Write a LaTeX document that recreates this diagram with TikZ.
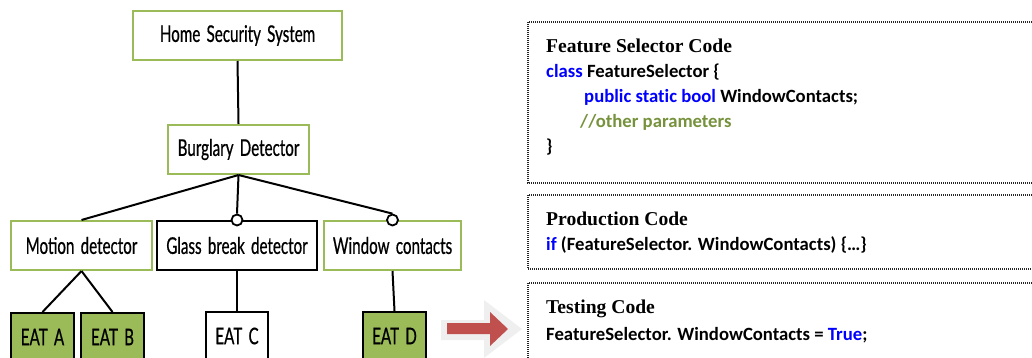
\documentclass[tikz,border=0pt]{standalone}
\usepackage{fontspec}
\setmainfont[Ligatures=NoCommon]{Carlito}
\newfontfamily\headfont{Liberation Serif}
\newfontfamily\treefont[FakeStretch=0.66,WordSpace=1.6,FakeBold=0.6]{Lato}
\definecolor{ogreen}{HTML}{9BBB59}
\definecolor{cgreen}{HTML}{76923C}
\definecolor{kblue}{HTML}{0000FF}
\definecolor{ared}{HTML}{C0504D}
\definecolor{shadowgray}{HTML}{EFEFEF}
\tikzset{
  fbox/.style={draw, line width=2pt, fill=white, inner sep=0pt, anchor=north west,
     font=\treefont\fontsize{23}{26}\selectfont},
  gbox/.style={fbox, draw=ogreen},
  kbox/.style={fbox, draw=black},
  eatbox/.style={fbox, draw=black, fill=ogreen},
  link/.style={line width=2pt},
  circ/.style={circle, draw=black, line width=1.8pt, fill=white, minimum size=11pt, inner sep=0pt},
  codebox/.style={draw=black!85, line width=1.3pt, dash pattern=on 1pt off 1pt},
  codetxt/.style={anchor=base west, inner sep=0pt, font=\bfseries\fontsize{18.7}{22}\selectfont},
  headtxt/.style={anchor=base west, inner sep=0pt, font=\headfont\bfseries\fontsize{19.6}{22}\selectfont},
}
\begin{document}
\begin{tikzpicture}[x=1pt,y=-1pt]
\useasboundingbox (0,0) rectangle (1032,358);
\clip (0,0) rectangle (1032,358);
% tree
\node[gbox, minimum width=209pt, minimum height=49pt] (hss) at (132,10) {Home Security System};
\node[gbox, minimum width=141pt, minimum height=49pt] (bd) at (167,124) {Burglary Detector};
\node[gbox, minimum width=141pt, minimum height=49pt] (md) at (10,220) {Motion detector};
\node[kbox, minimum width=160pt, minimum height=49pt] (gb) at (156,220) {Glass break detector};
\node[gbox, minimum width=137pt, minimum height=49pt] (wc) at (323,220) {Window contacts};
\node[eatbox, minimum width=63pt, minimum height=48pt] (ea) at (10,312) {EAT A};
\node[eatbox, minimum width=63pt, minimum height=48pt] (eb) at (80,312) {EAT B};
\node[kbox, minimum width=62pt, minimum height=48pt] (ec) at (205,311) {EAT C};
\node[eatbox, minimum width=63pt, minimum height=48pt] (ed) at (362,311) {EAT D};
\node[circ] (c1) at (gb.north) {};
\node[circ] (c2) at (wc.north) {};
\draw[link] (hss.south) -- (bd.north);
\draw[link] (bd.south) -- (md.north);
\draw[link] (bd.south) -- (c1.north);
\draw[link] (bd.south) -- (c2.north);
\draw[link] (md.south) -- (ea.north);
\draw[link] (md.south) -- (eb.north);
\draw[link] (gb.south) -- (ec.north);
\draw[link] (wc.south) -- (ed.north);
% arrow
\fill[shadowgray] (441,320) -- (484,320) -- (484,300) -- (522,329) -- (484,358) -- (484,340) -- (441,340) -- cycle;
\fill[ared] (447,323) -- (490,323) -- (490,312) -- (508,329) -- (490,346) -- (490,334) -- (447,334) -- cycle;
% code boxes
\draw[codebox] (1040,22) -- (528,22) -- (528,183) -- (1040,183);
\draw[codebox] (1040,195) -- (528,195) -- (528,269) -- (1040,269);
\draw[codebox] (1040,283) -- (528,283) -- (528,370);
\node[headtxt] (h1) at (546,53) {Feature Selector Code};
\node[codetxt] (l1) at (546,78) {\textcolor{kblue}{class} FeatureSelector \{};
\node[codetxt] (l2) at (584,103) {\textcolor{kblue}{public static bool} WindowContacts;};
\node[codetxt] (l3) at (580,128) {\textcolor{cgreen}{//other parameters}};
\node[codetxt] (l4) at (546,153) {\}};
\node[headtxt] (h2) at (546,225) {Production Code};
\node[codetxt] (p1) at (546,250) {\textcolor{kblue}{if} (FeatureSelector. WindowContacts) \{\ldots\}};
\node[headtxt] (h3) at (546,313) {Testing Code};
\node[codetxt] (t1) at (546,340) {FeatureSelector. WindowContacts = \textcolor{kblue}{True};};
\end{tikzpicture}
\end{document}
